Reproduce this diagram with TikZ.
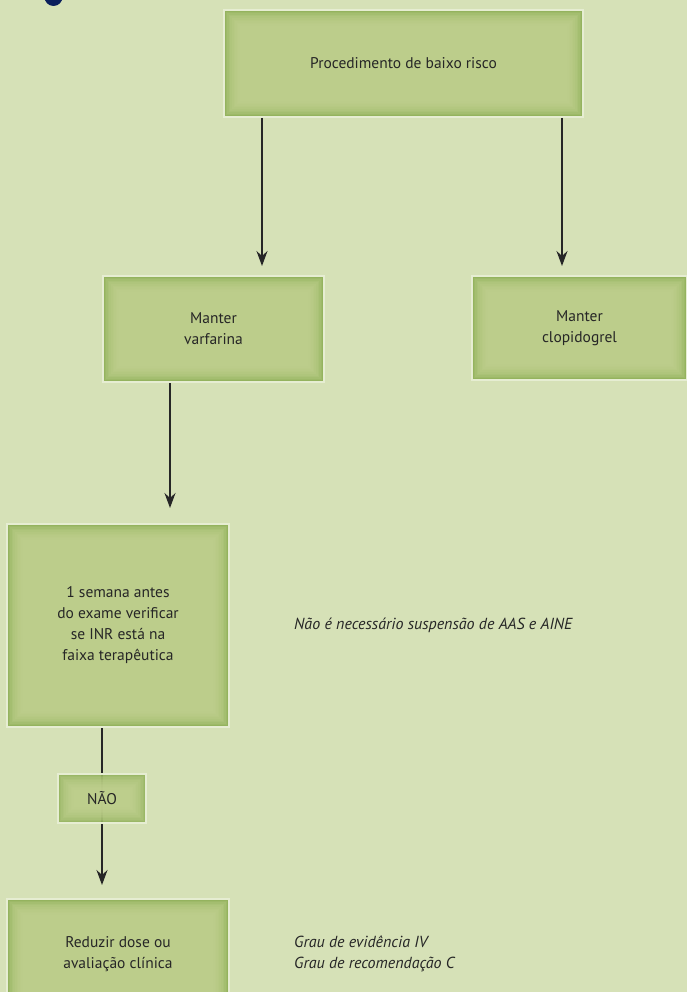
\documentclass[tikz,border=0pt]{standalone}
\usepackage{fontspec}
\setmainfont{PT Sans}
\usepackage{tikz}
\usetikzlibrary{arrows.meta, positioning}
\definecolor{pagebg}{HTML}{D6E1B7}
\definecolor{boxlight}{HTML}{C3D293}
\definecolor{boxdark}{HTML}{94B35E}
\definecolor{boxrim}{HTML}{E6EDD2}
\definecolor{inkdark}{HTML}{262626}
\definecolor{navydot}{HTML}{0B1F5C}
\tikzset{
    stepbox/.style={rectangle, draw=boxrim, line width=2pt, fill=boxdark, align=center, text=inkdark, inner sep=0pt, font=\fontsize{15.5}{21}\selectfont,
        path picture={
            \foreach \k in {1,...,10}
                \fill[boxlight, opacity=0.2] ([shift={({1.6*\k*1pt},{-1.6*\k*1pt})}]path picture bounding box.north west) rectangle ([shift={({-1.6*\k*1pt},{1.6*\k*1pt})}]path picture bounding box.south east);
        }},
    note/.style={align=left, text=inkdark, inner sep=0pt, font=\itshape\fontsize{16}{20.5}\selectfont},
    arrow/.style={-{Stealth[length=15pt, width=11pt, inset=5pt]}, line width=1.8pt, draw=inkdark}
}
\begin{document}
\begin{tikzpicture}[x=1pt, y=-1pt]
    % --- page ---
    \clip (0,0) rectangle (687,992);
    \fill[pagebg] (0,0) rectangle (687,992);
    \fill[navydot] (53.5,-3) circle (9pt);

    % --- boxes ---
    \node (risco) [stepbox, minimum width=359pt, minimum height=107pt] at (403.5,63.5) {Procedimento de baixo risco};
    \node (varf) [stepbox, minimum width=221pt, minimum height=106pt, below=157pt of risco, xshift=-190pt] {Manter\\varfarina};
    \node (clop) [stepbox, minimum width=215pt, minimum height=104pt, below=157pt of risco, xshift=176pt] {Manter\\clopidogrel};
    \node (semana) [stepbox, minimum width=222pt, minimum height=203pt, below=140pt of varf, xshift=-95.5pt] {1 semana antes\\do exame verificar\\se INR está na\\faixa terapêutica};
    \node (reduzir) [stepbox, minimum width=222pt, minimum height=110pt, below=170pt of semana] {Reduzir dose ou\\avaliação clínica};

    % --- notes ---
    \node (aas) [note, right=64pt of semana] {Não é necessário suspensão de AAS e AINE};
    \node (grau) [note, right=64pt of reduzir] {Grau de evidência IV\\Grau de recomendação C};

    % --- arrows ---
    \coordinate (riscoL) at ([xshift=-141.5pt]risco.south);
    \coordinate (riscoR) at ([xshift=158.5pt]risco.south);
    \coordinate (varfS) at ([xshift=-43.5pt]varf.south);
    \coordinate (semanaS) at ([xshift=-16pt]semana.south);
    \draw [arrow, shorten >=9pt] (riscoL) -- (riscoL |- varf.north);
    \draw [arrow, shorten >=9pt] (riscoR) -- (riscoR |- clop.north);
    \draw [arrow, shorten >=15pt] (varfS) -- (varfS |- semana.north);
    \draw [arrow, shorten >=13pt] (semanaS) -- (semanaS |- reduzir.north);

    % NAO sits on the line
    \node (nao) [stepbox, fill opacity=0.9, text opacity=1, minimum width=88pt, minimum height=49pt, below=45pt of semana, xshift=-16pt] {NÃO};
\end{tikzpicture}
\end{document}
